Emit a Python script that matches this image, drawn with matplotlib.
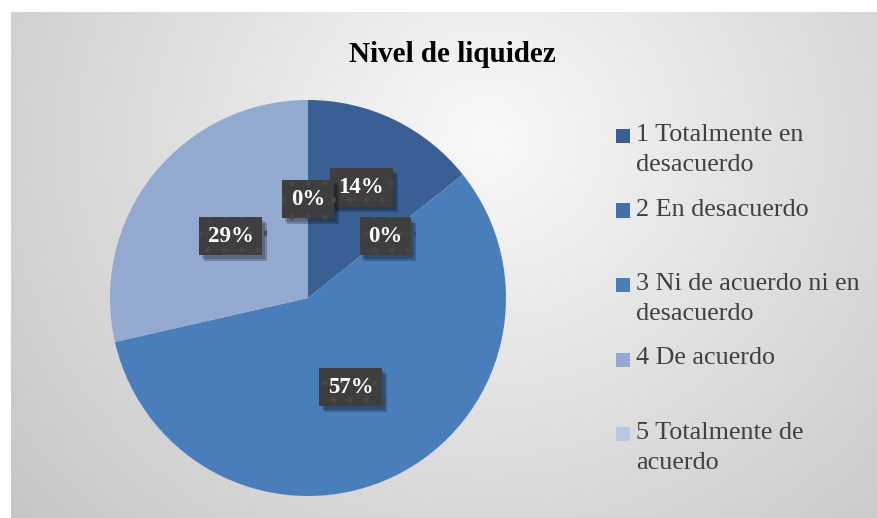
import numpy as np
import matplotlib.pyplot as plt
from matplotlib.patches import Rectangle
import matplotlib.patheffects as pe

# data
categories = ["1 Totalmente en\ndesacuerdo", "2 En desacuerdo",
              "3 Ni de acuerdo ni en\ndesacuerdo", "4 De acuerdo",
              "5 Totalmente de\nacuerdo"]
counts = [1, 0, 4, 2, 0]
colors = ["#3a5f94", "#4470aa", "#4a7ebb", "#93a9cf", "#b9c7df"]
title = "Nivel de liquidez"

plt.rcParams['font.family'] = ['Liberation Serif', 'DejaVu Serif']
plt.rcParams['hatch.linewidth'] = 1.5

W, H = 877, 518
fig = plt.figure(figsize=(W / 100, H / 100), dpi=100)
fig.patch.set_facecolor("white")

# chart area background: radial grey gradient
left, top = 11, 12
bg = fig.add_axes([left / W, 0, 1 - left / W, 1 - top / H], zorder=0)
gx, gy = np.meshgrid(np.linspace(0, 1, 300), np.linspace(0, 1, 200))
d = np.sqrt(((gx - 0.55) * 1.0) ** 2 + ((gy - 0.25) * 0.62) ** 2)
d = d / d.max()
shade = 0.975 - 0.2 * d
bg.imshow(np.dstack([shade] * 3), aspect="auto", extent=[0, 1, 0, 1], origin="upper")
bg.axis("off")

# pie
cx, cy, r = 308, 298, 198
ax = fig.add_axes([(cx - r) / W, 1 - (cy + r) / H, 2 * r / W, 2 * r / H], zorder=2)
ax.patch.set_alpha(0)
wedges, texts, autotexts = ax.pie(
    counts, colors=colors, startangle=90, counterclock=False,
    autopct="%.0f%%", pctdistance=0.5, radius=1,
    wedgeprops=dict(linewidth=0),
    textprops=dict(color="white", fontsize=16.5, fontweight="bold"),
)
ax.set_xlim(-1, 1)
ax.set_ylim(-1, 1)

# first label sits a bit further out (as in the original)
w0 = wedges[0]
ang = np.deg2rad((w0.theta1 + w0.theta2) / 2)
autotexts[0].set_position((0.62 * np.cos(ang), 0.62 * np.sin(ang)))

for t in autotexts:
    t.set_bbox(dict(boxstyle="square,pad=0.38", facecolor="#3e3e3e",
                    edgecolor="#474747", hatch=".", linewidth=0))
    t.set_zorder(5)
    t.get_bbox_patch().set_path_effects(
        [pe.SimplePatchShadow(offset=(3.5, -4), shadow_rgbFace="black", alpha=0.22),
         pe.SimplePatchShadow(offset=(2, -2.5), shadow_rgbFace="black", alpha=0.2),
         pe.Normal()])

# title
fig.text(452 / W, 1 - 54 / H, title, ha="center", va="center",
         fontsize=21, fontweight="bold", color="black", zorder=3)

# legend drawn by hand, entries equally spaced
first_y, step, line_h = 135, 74.5, 30
for i, (lab, col) in enumerate(zip(categories, colors)):
    y0 = first_y + i * step
    fig.patches.append(Rectangle((616 / W, 1 - (y0 + 8) / H), 14 / W, 14 / H,
                                 transform=fig.transFigure, facecolor=col,
                                 edgecolor="none", zorder=3))
    for j, line in enumerate(lab.split("\n")):
        fig.text(636 / W, 1 - (y0 + j * line_h) / H, line, ha="left",
                 va="center", fontsize=18.8, color="#404040", zorder=3)

fig.savefig("out.png", dpi=100)
